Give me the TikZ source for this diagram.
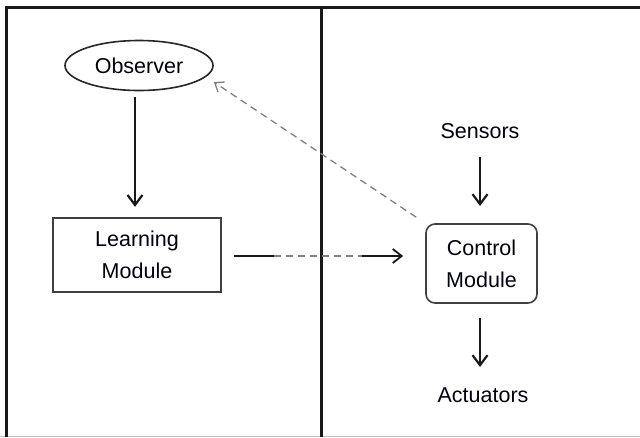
\documentclass[tikz,border=0pt]{standalone}
\usepackage{fontspec}
\setmainfont{Liberation Sans}
\usetikzlibrary{arrows.meta,calc,shapes.geometric}
\begin{document}
\begin{tikzpicture}[x=1pt,y=-1pt,
  txt/.style={font=\fontsize{21.5}{32}\selectfont, text=black!95!blue, inner sep=0pt, align=center},
  frame/.style={line width=3pt, black!90},
  boxsq/.style={txt, draw=black!75, line width=1.6pt, minimum width=168pt, minimum height=74pt},
  boxrd/.style={txt, draw=black!75, line width=1.6pt, rounded corners=9pt, minimum width=111pt, minimum height=79pt},
  ell/.style={txt, draw=black!85, line width=1.6pt, ellipse, minimum width=148pt, minimum height=50pt},
  arr/.style={line width=2.4pt, black!90, -{Straight Barb[length=10pt,width=15pt,line width=2.2pt]}},
  darr/.style={line width=1.3pt, gray, dash pattern=on 7pt off 5pt},
]
\useasboundingbox (0,0) rectangle (640,437);
% frame
\coordinate (tl) at (4.5,7);
\coordinate (tr) at (640,7);
\coordinate (bl) at (6,437);
\coordinate (bt) at (6,7);
\coordinate (mt) at (321,7);
\coordinate (mb) at (321,437);
\coordinate (gl) at (0,436);
\coordinate (gr) at (640,436);
\draw[gray!50, line width=1pt] (gl) -- (gr);
\draw[frame] (tl) -- (tr);
\draw[frame] (bt) -- (bl);
\draw[frame] (mt) -- (mb);
% nodes
\node[ell] (obs) at (139,65.5) {Observer};
\node[boxsq] (lm) at (137,255) {Learning\\Module};
\node[boxrd] (cm) at (481.5,263.5) {\raisebox{-2pt}{Control}\\\raisebox{-2pt}{Module}};
\node[txt] (sen) at (480,131) {Sensors};
\node[txt] (act) at (483,395.5) {Actuators};
% arrows
\coordinate (o1) at ($(obs.south)+(-4,5.5)$);
\coordinate (o2) at ($(o1)+(0,110)$);
\draw[arr] (o1) -- (o2);
\coordinate (s1) at (480,157);
\coordinate (s2) at (480,206);
\draw[arr] (s1) -- (s2);
\coordinate (a1) at (480,318);
\coordinate (a2) at (480,367);
\draw[arr] (a1) -- (a2);
% learning -> control
\coordinate (l1) at ($(lm.east)+(12,1)$);
\coordinate (l2) at ($(l1)+(40,0)$);
\coordinate (l4) at ($(cm.west)+(-22,-7.5)$);
\coordinate (l3) at ($(l4)+(-41,0)$);
\draw[darr] (l2) -- (l3);
\draw[line width=2.6pt, black!90] (l1) -- (l2);
\draw[line width=2.6pt, black!90, -{Straight Barb[length=9pt,width=14pt,line width=1.8pt]}] (l3) -- (l4);
% control -> observer (dashed)
\coordinate (c1) at ($(cm.north west)+(-9,-6)$);
\coordinate (c2) at ($(obs.east)+(0,16.5)$);
\draw[darr, -{Straight Barb[length=8pt,width=12pt,line width=1.3pt]}] (c1) -- (c2);
\end{tikzpicture}
\end{document}
